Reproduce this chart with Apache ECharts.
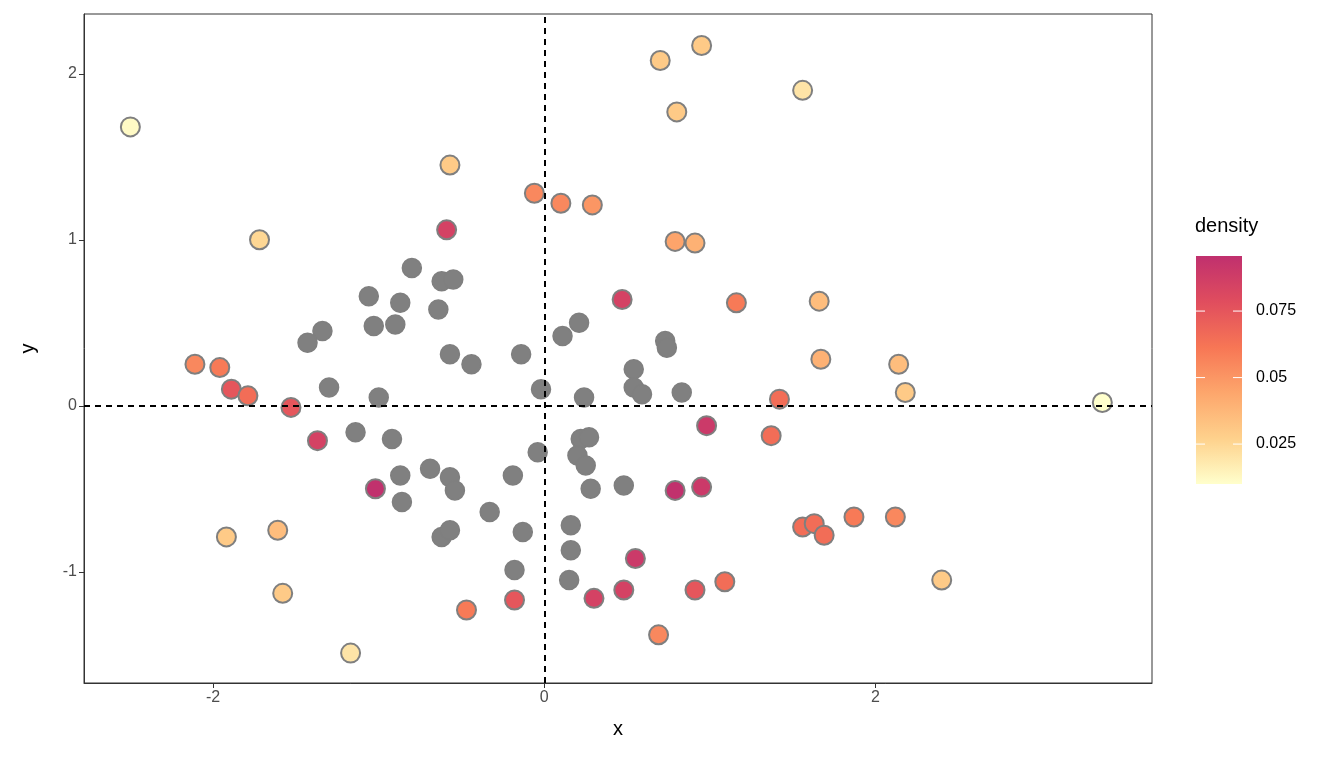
<!DOCTYPE html>
<html>
<head>
<meta charset="utf-8">
<script src="https://cdn.jsdelivr.net/npm/echarts@6/dist/echarts.min.js"></script>
<style>html,body{margin:0;padding:0;background:#fff}#c{width:1344px;height:768px}</style>
</head>
<body>
<div id="c"></div>
<script>
// colored points: [x, y, density]
var densPoints = [
  [-2.50,1.68,0.012],[0.70,2.08,0.030],[0.95,2.17,0.030],[1.56,1.90,0.020],[0.80,1.77,0.030],
  [-0.57,1.45,0.030],[-0.06,1.28,0.055],[0.10,1.22,0.055],[0.29,1.21,0.050],[-0.59,1.06,0.085],
  [-1.72,1.00,0.025],[0.79,0.99,0.045],[0.91,0.98,0.040],[0.47,0.64,0.085],[1.16,0.62,0.060],
  [1.66,0.63,0.035],[1.67,0.28,0.040],[2.14,0.25,0.035],[2.18,0.08,0.030],[3.37,0.02,0.010],
  [-2.11,0.25,0.055],[-1.96,0.23,0.060],[-1.89,0.10,0.075],[-1.79,0.06,0.065],[-1.53,-0.01,0.075],
  [-1.37,-0.21,0.085],[1.42,0.04,0.065],[0.98,-0.12,0.090],[1.37,-0.18,0.065],[-1.02,-0.50,0.095],
  [0.79,-0.51,0.095],[0.95,-0.49,0.090],[-1.92,-0.79,0.030],[-1.61,-0.75,0.035],[-1.58,-1.13,0.030],
  [-1.17,-1.49,0.020],[-0.47,-1.23,0.060],[-0.18,-1.17,0.075],[0.30,-1.16,0.085],[0.48,-1.11,0.085],
  [0.55,-0.92,0.090],[0.69,-1.38,0.055],[0.91,-1.11,0.075],[1.09,-1.06,0.065],[1.56,-0.73,0.065],
  [1.63,-0.71,0.065],[1.69,-0.78,0.065],[1.87,-0.67,0.060],[2.12,-0.67,0.055],[2.40,-1.05,0.030]
];
// points without density (grey)
var greyPoints = [
  [-0.80,0.83],[-1.06,0.66],[-0.87,0.62],[-1.03,0.48],[-0.90,0.49],[-1.34,0.45],[-1.43,0.38],
  [-0.64,0.58],[-0.62,0.75],[-0.55,0.76],[-0.57,0.31],[-0.44,0.25],[-0.14,0.31],[0.11,0.42],
  [0.21,0.50],[-1.30,0.11],[-1.00,0.05],[-0.02,0.10],[0.73,0.39],[0.74,0.35],[0.83,0.08],
  [0.54,0.22],[0.54,0.11],[0.59,0.07],[0.24,0.05],[-1.14,-0.16],[-0.92,-0.20],[-0.87,-0.42],
  [-0.86,-0.58],[-0.69,-0.38],[-0.57,-0.43],[-0.54,-0.51],[-0.04,-0.28],[-0.19,-0.42],[0.22,-0.20],
  [0.27,-0.19],[0.20,-0.30],[0.25,-0.36],[0.28,-0.50],[0.48,-0.48],[-0.33,-0.64],[-0.13,-0.76],
  [0.16,-0.72],[0.16,-0.87],[-0.62,-0.79],[-0.57,-0.75],[-0.18,-0.99],[0.15,-1.05]
];
var xTicks = [-2, 0, 2];
var yTicks = [-1, 0, 1, 2];
var legendTicks = [0.025, 0.05, 0.075];
var densMin = 0.010, densMax = 0.0957;
var rampColors = ['#FFFFCC', '#FED18C', '#FDA66C', '#F77655', '#E04D5E', '#C0306E'];

var chart = echarts.init(document.getElementById('c'));

// colour bar legend
var barX = 1196, barTop = 256, barBottom = 484, barW = 46;
function barY(v) { return barBottom - (v - densMin) / (densMax - densMin) * (barBottom - barTop); }
var graphics = [
  {type: 'text', left: 1195, top: 216, style: {text: 'density', fontSize: 20, fill: '#000', fontFamily: 'Liberation Sans'}},
  {type: 'rect', shape: {x: barX, y: barTop, width: barW, height: barBottom - barTop},
   style: {fill: new echarts.graphic.LinearGradient(0, 1, 0, 0, rampColors.map(function(c, i) {
     return {offset: i / (rampColors.length - 1), color: c};
   }))}}
];
legendTicks.forEach(function(t) {
  var y = barY(t);
  graphics.push({type: 'line', shape: {x1: barX, y1: y, x2: barX + 9, y2: y}, style: {stroke: '#fff', lineWidth: 1}});
  graphics.push({type: 'line', shape: {x1: barX + barW - 9, y1: y, x2: barX + barW, y2: y}, style: {stroke: '#fff', lineWidth: 1}});
  graphics.push({type: 'text', x: 1256, y: y, style: {text: String(t), fontSize: 16, fill: '#000', verticalAlign: 'middle', fontFamily: 'Liberation Sans'}});
});

var options = {
  animation: false,
  textStyle: {fontFamily: 'Liberation Sans'},
  grid: {left: 84, right: 192, top: 14, bottom: 85, show: true, borderColor: '#333', borderWidth: 1},
  xAxis: {
    type: 'value', min: -2.78, max: 3.67,
    name: 'x', nameLocation: 'middle', nameGap: 36, nameTextStyle: {fontSize: 20, color: '#000'},
    axisLine: {show: true, onZero: false, lineStyle: {color: '#333'}},
    axisTick: {show: true, inside: false, customValues: xTicks, length: 5, lineStyle: {color: '#333'}},
    axisLabel: {customValues: xTicks, fontSize: 16, color: '#4d4d4d', margin: 7},
    splitLine: {show: false},
  },
  yAxis: {
    type: 'value', min: -1.67, max: 2.36,
    name: 'y', nameLocation: 'middle', nameGap: 46, nameTextStyle: {fontSize: 20, color: '#000'},
    axisLine: {show: true, onZero: false, lineStyle: {color: '#333'}},
    axisTick: {show: true, inside: false, customValues: yTicks, length: 5, lineStyle: {color: '#333'}},
    axisLabel: {customValues: yTicks, fontSize: 16, color: '#4d4d4d', margin: 7},
    splitLine: {show: false},
  },
  visualMap: {
    show: false, type: 'continuous', seriesIndex: 1, dimension: 2,
    min: densMin, max: densMax, inRange: {color: rampColors},
  },
  series: [
    {
      type: 'scatter', data: greyPoints, symbolSize: 19,
      itemStyle: {color: '#808080', borderColor: '#7f7f7f', borderWidth: 1.5, opacity: 1},
      markLine: {
        silent: true, symbol: 'none', label: {show: false},
        lineStyle: {color: '#000', type: [6, 5], width: 2},
        data: [{xAxis: 0}, {yAxis: 0}],
      },
    },
    {
      type: 'scatter', data: densPoints, symbolSize: 19,
      itemStyle: {borderColor: '#7f7f7f', borderWidth: 2, opacity: 1},
    },
  ],
  graphic: graphics,
};
chart.setOption(options);
</script>
</body>
</html>
